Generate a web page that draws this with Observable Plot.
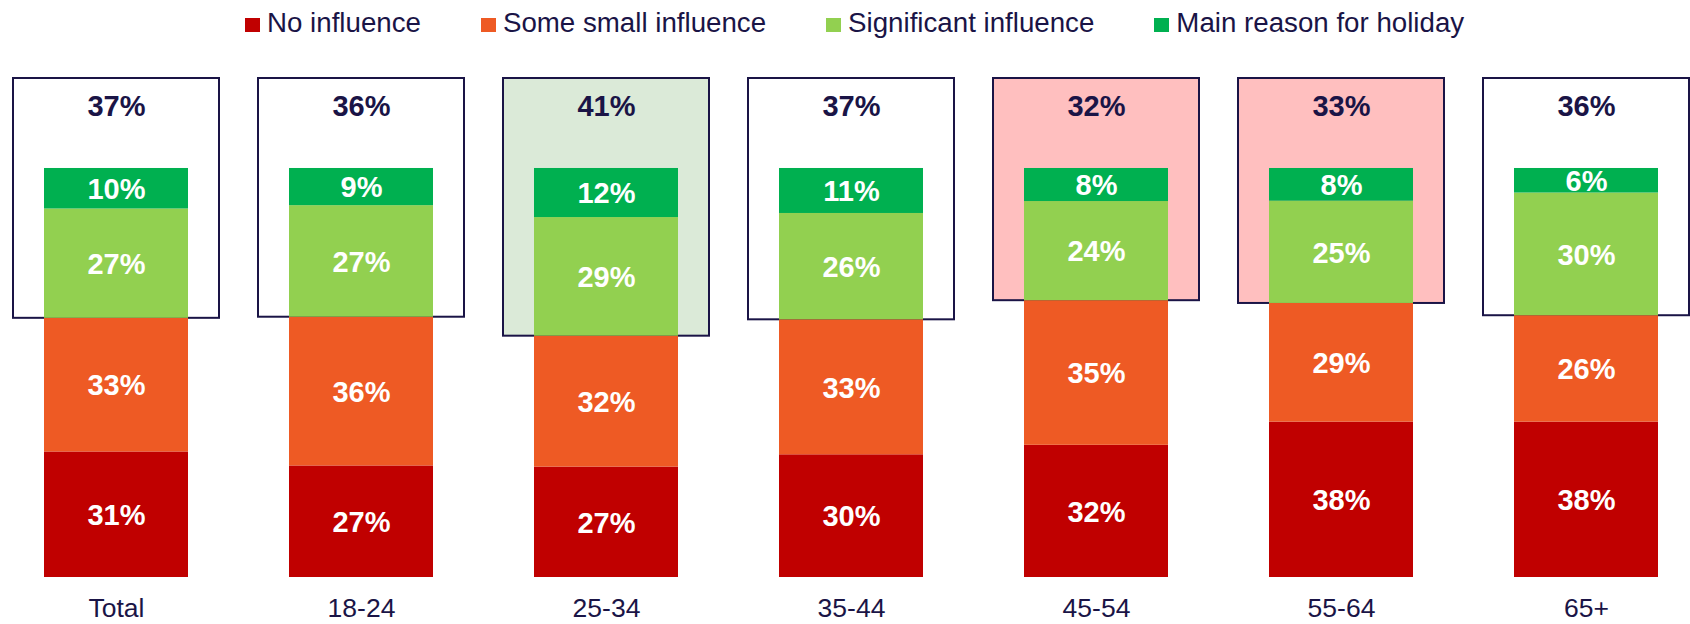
<!DOCTYPE html>
<html>
<head>
<meta charset="utf-8">
<script src="https://cdn.jsdelivr.net/npm/d3@7"></script>
<script src="https://cdn.jsdelivr.net/npm/@observablehq/plot@0.6"></script>
<style>
  html, body { margin: 0; padding: 0; background: #fff; }
  body { width: 1690px; height: 624px; overflow: hidden; font-family: "Liberation Sans", Arial, sans-serif; }
  #legend { height: 45px; box-sizing: border-box; padding-top: 1.5px; padding-left: 245px; display: flex; flex-direction: row; }
  .item { display: flex; align-items: center; margin-right: 60px; }
  .sw { width: 15px; height: 14px; margin-right: 7px; position: relative; top: 1.5px; }
  .lab { font-size: 27.7px; line-height: 32px; color: #1a1446; white-space: nowrap; }
  #chart svg { display: block; }
</style>
</head>
<body>
<div id="legend"></div>
<div id="chart"></div>
<script>
// ---- data ----
const ages = ["Total", "18-24", "25-34", "35-44", "45-54", "55-64", "65+"];
const seriesNames = ["No influence", "Some small influence", "Significant influence", "Main reason for holiday"];
const noInfluence = [31, 27, 27, 30, 32, 38, 38];
const someSmall   = [33, 36, 32, 33, 35, 29, 26];
const significant = [27, 27, 29, 26, 24, 25, 30];
const mainReason  = [10, 9, 12, 11, 8, 8, 6];
const highlight   = ["none", "none", "up", "none", "down", "down", "none"];

// ---- styles ----
const seriesColors = ["#C00000", "#EE5A24", "#92D050", "#00B050"];
const highlightFill = {none: "#ffffff", up: "#DBEAD8", down: "#FFBFBF"};
const navy = "#1a1446";
const yTop = 1.22;

// ---- tables ----
const seriesValues = [noInfluence, someSmall, significant, mainReason];
const rows = [];
ages.forEach((age, i) => {
  seriesNames.forEach((s, j) => {
    rows.push({age, series: s, value: seriesValues[j][i]});
  });
});
const boxes = ages.map((age, i) => {
  const total = noInfluence[i] + someSmall[i] + significant[i] + mainReason[i];
  return {
    age,
    base: (noInfluence[i] + someSmall[i]) / total,
    top: yTop,
    label: (significant[i] + mainReason[i]) + "%",
    hl: highlight[i]
  };
});

// ---- legend ----
const legend = document.getElementById("legend");
seriesNames.forEach((s, j) => {
  const it = document.createElement("div");
  it.className = "item";
  const sw = document.createElement("div");
  sw.className = "sw";
  sw.style.background = seriesColors[j];
  const lb = document.createElement("span");
  lb.className = "lab";
  lb.textContent = s;
  it.appendChild(sw);
  it.appendChild(lb);
  legend.appendChild(it);
});

// ---- chart ----
const stackOpts = {x: "age", y: "value", z: "series", offset: "normalize", order: seriesNames};

const chart = Plot.plot({
  width: 1690,
  height: 579,
  marginLeft: 42,
  marginRight: 31,
  marginTop: 33,
  marginBottom: 47,
  style: {fontFamily: "'Liberation Sans', Arial, sans-serif", background: "transparent", overflow: "visible"},
  x: {domain: ages, paddingInner: 0.4134, paddingOuter: 0, axis: null},
  y: {domain: [0, yTop], axis: null},
  color: {domain: seriesNames, range: seriesColors},
  marks: [
    Plot.barY(boxes, {
      x: "age", y1: "base", y2: "top",
      fill: d => highlightFill[d.hl],
      stroke: navy, strokeWidth: 2,
      insetLeft: -31, insetRight: -31, insetTop: 0, insetBottom: 0
    }),
    Plot.text(boxes, {
      x: "age", y: "top", text: "label",
      dy: 28, lineAnchor: "middle",
      fontSize: 29, fontWeight: "bold", fill: navy
    }),
    Plot.barY(rows, Plot.stackY({...stackOpts, fill: "series", inset: 0})),
    Plot.text(rows, Plot.stackY({
      ...stackOpts,
      text: d => d.value + "%",
      fill: "white", fontSize: 29, fontWeight: "bold", lineAnchor: "middle", dy: 1
    })),
    Plot.axisX({
      domain: ages, tickSize: 0, tickPadding: 21,
      fontSize: 26.5, fill: navy, label: null
    })
  ]
});
document.getElementById("chart").appendChild(chart);
</script>
</body>
</html>
